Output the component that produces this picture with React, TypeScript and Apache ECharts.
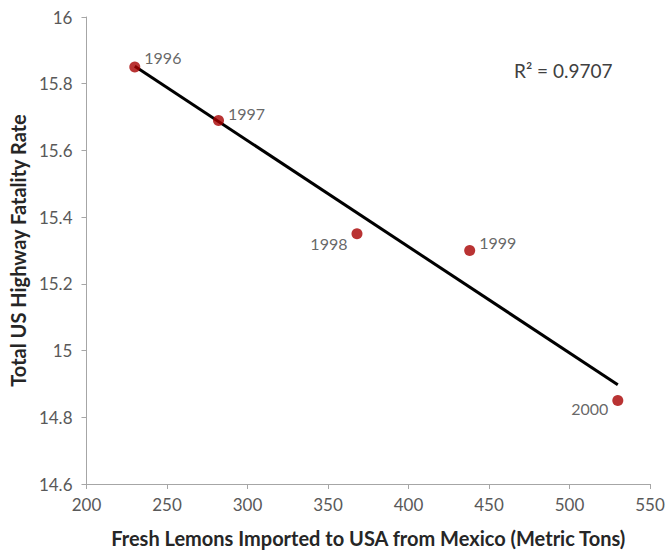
import React, { useEffect, useRef } from "react";
import * as echarts from "echarts";

const years = ["1996", "1997", "1998", "1999", "2000"];
const lemons = [230, 282, 368, 438, 530];
const fatality = [15.85, 15.69, 15.35, 15.3, 14.85];
const labelSide = ["right", "right", "left", "right", "left"];
const labelShift = [[0, -10], [0, -7], [0, 10], [0, -8], [0, 8]];
const xTicks = { min: 200, max: 550, step: 50 };
const yTicks = { min: 14.6, max: 16, step: 0.2 };
const rSquaredText = "R² = 0.9707";

function regression(xs: number[], ys: number[]) {
  const n = xs.length;
  const mx = xs.reduce((a, b) => a + b, 0) / n;
  const my = ys.reduce((a, b) => a + b, 0) / n;
  let sxy = 0;
  let sxx = 0;
  for (let i = 0; i < n; i++) {
    sxy += (xs[i] - mx) * (ys[i] - my);
    sxx += (xs[i] - mx) * (xs[i] - mx);
  }
  const slope = sxy / sxx;
  const intercept = my - slope * mx;
  return { slope, intercept };
}

export default function App() {
  const ref = useRef<HTMLDivElement>(null);
  useEffect(() => {
    document.body.style.margin = "0";
    const chart = echarts.init(ref.current!, null, { renderer: "svg" });
    const { slope, intercept } = regression(lemons, fatality);
    const x0 = Math.min(...lemons);
    const x1 = Math.max(...lemons);
    const font = "Lato, 'Open Sans', sans-serif";
    chart.setOption({
      animation: false,
      backgroundColor: "#ffffff",
      textStyle: { fontFamily: font },
      grid: { left: 86, right: 18, top: 17, bottom: 64 },
      xAxis: {
        type: "value",
        min: xTicks.min,
        max: xTicks.max,
        interval: xTicks.step,
        name: "Fresh Lemons Imported to USA from Mexico (Metric Tons)",
        nameLocation: "middle",
        nameGap: 44,
        nameTextStyle: { fontSize: 20, fontWeight: "bold", color: "#262626", fontFamily: font },
        axisLine: { show: true, lineStyle: { color: "#a6a6a6", width: 1 } },
        axisTick: { show: true, length: 5, lineStyle: { color: "#a6a6a6" } },
        axisLabel: { fontSize: 17, color: "#595959", margin: 12, fontFamily: font },
        splitLine: { show: false },
      },
      yAxis: {
        type: "value",
        min: yTicks.min,
        max: yTicks.max,
        interval: yTicks.step,
        name: "Total US Highway Fatality Rate",
        nameLocation: "middle",
        nameGap: 58,
        nameTextStyle: { fontSize: 20, fontWeight: "bold", color: "#262626", fontFamily: font },
        axisLine: { show: true, lineStyle: { color: "#a6a6a6", width: 1 } },
        axisTick: { show: true, length: 5, lineStyle: { color: "#a6a6a6" } },
        axisLabel: {
          fontSize: 17,
          color: "#595959",
          margin: 14,
          fontFamily: font,
          formatter: (v: number) => String(Math.round(v * 10) / 10),
        },
        splitLine: { show: false },
      },
      series: [
        {
          type: "line",
          data: [
            [x0, intercept + slope * x0],
            [x1, intercept + slope * x1],
          ],
          symbol: "none",
          lineStyle: { color: "#000000", width: 3 },
          silent: true,
          z: 2,
        },
        {
          type: "scatter",
          symbolSize: 11,
          itemStyle: { color: "#a80000" },
          z: 3,
          data: lemons.map((x, i) => ({
            value: [x, fatality[i]],
            label: {
              show: true,
              formatter: years[i],
              position: labelSide[i],
              offset: labelShift[i],
              distance: 4,
              fontSize: 16,
              color: "#404040",
              fontFamily: font,
            },
          })),
        },
      ],
      graphic: [
        {
          type: "text",
          left: 514,
          top: 61,
          style: { text: rSquaredText, fontSize: 19, fill: "#404040", fontFamily: font },
        },
      ],
    });
    return () => chart.dispose();
  }, []);
  return <div ref={ref} style={{ width: 668, height: 553 }} />;
}
